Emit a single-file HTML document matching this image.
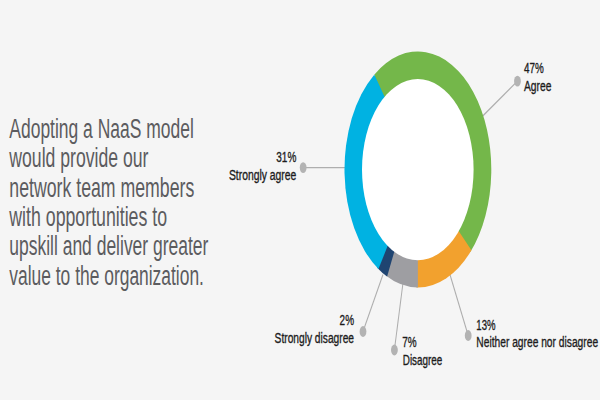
<!DOCTYPE html>
<html><head><meta charset="utf-8"><title>NaaS survey</title>
<style>
html,body{margin:0;padding:0;background:#f5f5f5;}
body{width:600px;height:400px;overflow:hidden;font-family:"Liberation Sans",sans-serif;}
svg{display:block}
.main text{font-family:"Liberation Sans",sans-serif;font-size:27.0px;fill:#5c5c5f;}
.lab text{font-family:"Liberation Sans",sans-serif;font-size:15.2px;fill:#1c1c1c;stroke:#1c1c1c;stroke-width:0.35px;}
</style></head><body>
<svg width="600" height="400" viewBox="0 0 600 400">
<rect width="600" height="400" fill="#f5f5f5"/>
<g class="lines">
<line x1="517.45" y1="81.1" x2="480.25" y2="118.5" stroke="#aeaeae" stroke-width="1.3"/>
<line x1="303.15" y1="167.55" x2="346" y2="167.55" stroke="#aeaeae" stroke-width="1.3"/>
<line x1="363.0" y1="331.5" x2="383.0" y2="274.5" stroke="#aeaeae" stroke-width="1.05"/>
<line x1="394.4" y1="350.0" x2="403.1" y2="282" stroke="#aeaeae" stroke-width="1.05"/>
<line x1="468.2" y1="335.5" x2="449.2" y2="272" stroke="#aeaeae" stroke-width="1.05"/>
</g>
<g transform="translate(417.9 169.5) scale(0.7340000000000001 1.18)">
<circle cx="0" cy="0" r="98.6" fill="#00b2e2"/>
<path d="M-59.482 -80.386A100.0 100.0 0 0 1 71.447 69.966L0 0Z" fill="#74b74a"/>
<path d="M72.897 68.455A100.0 100.0 0 0 1 -2.094 99.978L0 0Z" fill="#f2a12e"/>
<path d="M0.000 100.000A100.0 100.0 0 0 1 -43.837 89.879L0 0Z" fill="#9e9ea2"/>
<path d="M-41.945 90.778A100.0 100.0 0 0 1 -55.484 83.195L0 0Z" fill="#1f4471"/>
<path d="M-53.730 84.339A100.0 100.0 0 0 1 -59.482 -80.386L0 0Z" fill="#00b2e2"/>
</g>
<ellipse cx="417.8" cy="169.6" rx="55.8" ry="90.6" fill="#ffffff"/>
<g class="dots">
<ellipse cx="517.45" cy="81.1" rx="3.4" ry="5.4" fill="#b3b3b3"/><ellipse cx="303.15" cy="167.6" rx="3.4" ry="5.4" fill="#b3b3b3"/><ellipse cx="363.0" cy="331.5" rx="3.4" ry="5.4" fill="#b3b3b3"/><ellipse cx="394.4" cy="350.0" rx="3.4" ry="5.4" fill="#b3b3b3"/><ellipse cx="468.2" cy="335.5" rx="3.4" ry="5.4" fill="#b3b3b3"/>
</g>
<g class="main">
<text transform="translate(9.3 138.00) scale(0.6471 1)">Adopting a NaaS model</text>
<text transform="translate(9.3 167.35) scale(0.6529 1)">would provide our</text>
<text transform="translate(9.3 196.70) scale(0.6560 1)">network team members</text>
<text transform="translate(9.3 226.05) scale(0.6575 1)">with opportunities to</text>
<text transform="translate(9.3 255.40) scale(0.6471 1)">upskill and deliver greater</text>
<text transform="translate(9.3 284.75) scale(0.6452 1)">value to the organization.</text>
</g>
<g class="lab">
<text transform="translate(524 73.3) scale(0.6492 1)" text-anchor="start">47%</text><text transform="translate(524 91.3) scale(0.6774 1)" text-anchor="start">Agree</text>
<text transform="translate(296.3 162.4) scale(0.6586 1)" text-anchor="end">31%</text><text transform="translate(296.3 180.3) scale(0.6821 1)" text-anchor="end">Strongly agree</text>
<text transform="translate(354.0 324.9) scale(0.6559 1)" text-anchor="end">2%</text><text transform="translate(354.0 342.7) scale(0.6719 1)" text-anchor="end">Strongly disagree</text>
<text transform="translate(402.3 347.4) scale(0.6559 1)" text-anchor="start">7%</text><text transform="translate(402.8 364.7) scale(0.65 1)" text-anchor="start">Disagree</text>
<text transform="translate(476.3 329.9) scale(0.6322 1)" text-anchor="start">13%</text><text transform="translate(476.3 347.1) scale(0.6738 1)" text-anchor="start">Neither agree nor disagree</text>
</g>
</svg>
</body></html>
